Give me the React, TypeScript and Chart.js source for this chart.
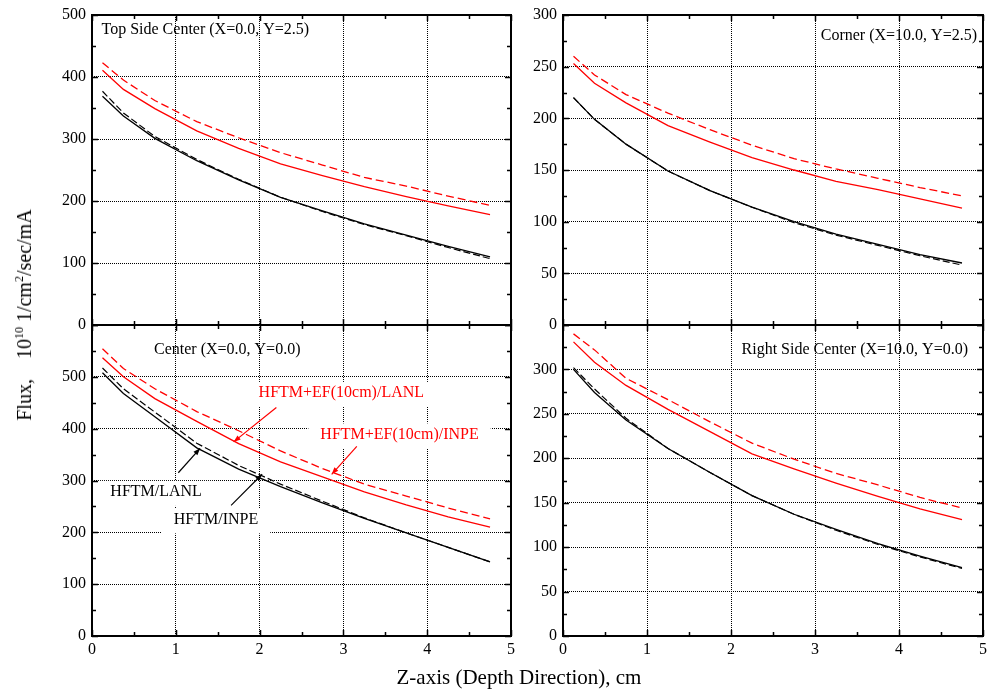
import React, { useEffect, useRef } from 'react';
import { Chart, registerables } from 'chart.js';

Chart.register(...registerables);

const W = 989;
const H = 695;
const SERIF = "'Liberation Serif', 'Times New Roman', Times, serif";

// ---- data ----
const depth = [0.125, 0.375, 0.75, 1.25, 1.75, 2.25, 2.75, 3.25, 3.75, 4.25, 4.75];
const xTickLabels = [0, 1, 2, 3, 4, 5];

const seriesNames = ['HFTM/LANL', 'HFTM/INPE', 'HFTM+EF(10cm)/LANL', 'HFTM+EF(10cm)/INPE'];

// Top Side Center (X=0.0, Y=2.5)
const topSideLanl = [369, 337, 301, 265, 234, 206, 184, 163, 145, 127, 110];
const topSideInpe = [377, 342, 304, 267, 235, 206, 183, 162, 144, 125, 107];
const topSideEfLanl = [411, 380, 349, 313, 285, 260, 241, 223, 207, 192, 178];
const topSideEfInpe = [423, 395, 362, 328, 302, 278, 258, 238, 224, 208, 193];
const topSideYTicks = [0, 100, 200, 300, 400, 500];

// Corner (X=10.0, Y=2.5)
const cornerLanl = [220, 199, 175, 149, 130, 114, 100, 88, 78, 68, 60];
const cornerInpe = [220, 199, 175, 149, 130, 114, 99, 87, 77, 67, 58];
const cornerEfLanl = [253, 234, 215, 193, 177, 162, 150, 139, 131, 122, 113];
const cornerEfInpe = [260, 242, 223, 205, 189, 174, 161, 151, 142, 133, 125];
const cornerYTicks = [0, 50, 100, 150, 200, 250, 300];

// Center (X=0.0, Y=0.0)
const centerLanl = [508, 468, 423, 363, 322, 288, 257, 227, 199, 171, 143];
const centerInpe = [517, 477, 432, 372, 329, 293, 260, 228, 199, 171, 143];
const centerEfLanl = [537, 500, 458, 414, 371, 336, 307, 278, 253, 230, 210];
const centerEfInpe = [554, 516, 477, 433, 396, 357, 323, 293, 270, 247, 226];
const centerYTicks = [0, 100, 200, 300, 400, 500];

// Right Side Center (X=10.0, Y=0.0)
const rightLanl = [300, 274, 243, 211, 184, 158, 137, 120, 104, 90, 77];
const rightInpe = [302, 278, 245, 211, 184, 158, 137, 119, 103, 89, 76];
const rightEfLanl = [331, 308, 282, 255, 230, 205, 188, 172, 157, 143, 131];
const rightEfInpe = [340, 322, 290, 266, 241, 217, 199, 183, 170, 156, 144];
const rightYTicks = [0, 50, 100, 150, 200, 250, 300];

const panelTitles = [
  'Top Side Center (X=0.0, Y=2.5)',
  'Corner (X=10.0, Y=2.5)',
  'Center (X=0.0, Y=0.0)',
  'Right Side Center (X=10.0, Y=0.0)',
];

// annotations in the Center panel (data units)
const noteText = ['HFTM+EF(10cm)/LANL', 'HFTM+EF(10cm)/INPE', 'HFTM/LANL', 'HFTM/INPE'];
const noteX = [2.975, 3.67, 0.765, 1.48];
const noteY = [469, 389, 278, 225];
const arrowFromX = [2.2, 3.16, 1.03, 1.66];
const arrowFromY = [441, 366, 315, 252];
const arrowToX = [1.69, 2.86, 1.29, 2.03];
const arrowToY = [374.5, 312, 362, 312];
const noteColors = ['#ff0000', '#ff0000', '#000000', '#000000'];

// ---- layout / style config ----
type PanelCfg = {
  title: string;
  titleAlign: 'left' | 'right';
  titleDx: number;
  titleDy: number;
  left: number;
  right: number;
  top: number;
  bottom: number;
  yMax: number;
  yStep: number;
  yLabels: number[];
  showX: boolean;
  lanl: number[];
  inpe: number[];
  efLanl: number[];
  efInpe: number[];
  notes: boolean;
};

const L1 = 92, R1 = 511, L2 = 563, R2 = 983, T = 15, M = 325, B = 636;
const Y_AXIS_W = 60;
const X_AXIS_H = 30;

const panels: PanelCfg[] = [
  { title: panelTitles[0], titleAlign: 'left', titleDx: 9.5, titleDy: 14.5, left: L1, right: R1, top: T, bottom: M,
    yMax: 500, yStep: 100, yLabels: topSideYTicks, showX: false,
    lanl: topSideLanl, inpe: topSideInpe, efLanl: topSideEfLanl, efInpe: topSideEfInpe, notes: false },
  { title: panelTitles[1], titleAlign: 'right', titleDx: -6, titleDy: 21, left: L2, right: R2, top: T, bottom: M,
    yMax: 300, yStep: 50, yLabels: cornerYTicks, showX: false,
    lanl: cornerLanl, inpe: cornerInpe, efLanl: cornerEfLanl, efInpe: cornerEfInpe, notes: false },
  { title: panelTitles[2], titleAlign: 'left', titleDx: 62, titleDy: 25, left: L1, right: R1, top: M, bottom: B,
    yMax: 600, yStep: 100, yLabels: centerYTicks, showX: true,
    lanl: centerLanl, inpe: centerInpe, efLanl: centerEfLanl, efInpe: centerEfInpe, notes: true },
  { title: panelTitles[3], titleAlign: 'right', titleDx: -15, titleDy: 25, left: L2, right: R2, top: M, bottom: B,
    yMax: 350, yStep: 50, yLabels: rightYTicks, showX: true,
    lanl: rightLanl, inpe: rightInpe, efLanl: rightEfLanl, efInpe: rightEfInpe, notes: false },
];

const toPts = (ys: number[]) => depth.map((x, i) => ({ x, y: ys[i] }));

function makeFramePlugin(cfg: PanelCfg) {
  return {
    id: 'frameTicks',
    beforeDatasetsDraw(chart: any) {
      const { ctx, chartArea: a } = chart;
      ctx.save();
      ctx.font = `16px ${SERIF}`;
      ctx.fillStyle = '#000';
      ctx.textBaseline = 'middle';
      ctx.textAlign = cfg.titleAlign;
      const tx = cfg.titleAlign === 'left' ? a.left + cfg.titleDx : a.right + cfg.titleDx;
      ctx.fillText(cfg.title, tx, a.top + cfg.titleDy);
      ctx.restore();
    },
    afterDatasetsDraw(chart: any) {
      const { ctx, chartArea: a, scales } = chart;
      const x = scales.x, y = scales.y;
      ctx.save();
      ctx.strokeStyle = '#000';
      ctx.lineWidth = 1.5;
      ctx.beginPath();
      for (let k = 0; k <= 10; k++) {
        const v = k * 0.5;
        const px = Math.round(x.getPixelForValue(v)) + 0.5;
        const len = k % 2 === 0 ? 6 : 4;
        ctx.moveTo(px, a.bottom); ctx.lineTo(px, a.bottom - len);
        ctx.moveTo(px, a.top); ctx.lineTo(px, a.top + len);
      }
      const minor = cfg.yStep / 2;
      const n = Math.round(cfg.yMax / minor);
      for (let k = 0; k <= n; k++) {
        const v = k * minor;
        const py = Math.round(y.getPixelForValue(v)) + 0.5;
        const len = k % 2 === 0 ? 6 : 4;
        ctx.moveTo(a.left, py); ctx.lineTo(a.left + len, py);
        ctx.moveTo(a.right, py); ctx.lineTo(a.right - len, py);
      }
      ctx.stroke();
      ctx.lineWidth = 2;
      ctx.strokeRect(a.left, a.top, a.right - a.left, a.bottom - a.top);
      ctx.restore();
    },
  };
}

function makeNotesPlugin() {
  return {
    id: 'notes',
    beforeDatasetsDraw(chart: any) {
      const { ctx, scales } = chart;
      const x = scales.x, y = scales.y;
      ctx.save();
      ctx.font = `16px ${SERIF}`;
      ctx.textAlign = 'center';
      ctx.textBaseline = 'middle';
      noteText.forEach((t, i) => {
        const cx = x.getPixelForValue(noteX[i]);
        const cy = y.getPixelForValue(noteY[i]);
        const w = ctx.measureText(t).width + 24;
        ctx.fillStyle = '#fff';
        ctx.fillRect(cx - w / 2, cy - 11, w, 25);
        ctx.fillStyle = noteColors[i];
        ctx.fillText(t, cx, cy);
      });
      ctx.restore();
    },
    afterDatasetsDraw(chart: any) {
      const { ctx, scales } = chart;
      const x = scales.x, y = scales.y;
      ctx.save();
      ctx.lineWidth = 1.2;
      noteText.forEach((_, i) => {
        const x1 = x.getPixelForValue(arrowFromX[i]);
        const y1 = y.getPixelForValue(arrowFromY[i]);
        const x2 = x.getPixelForValue(arrowToX[i]);
        const y2 = y.getPixelForValue(arrowToY[i]);
        const ang = Math.atan2(y2 - y1, x2 - x1);
        ctx.strokeStyle = noteColors[i];
        ctx.fillStyle = noteColors[i];
        ctx.beginPath();
        ctx.moveTo(x1, y1);
        ctx.lineTo(x2, y2);
        ctx.stroke();
        const hl = 7, hw = 2.6;
        ctx.beginPath();
        ctx.moveTo(x2, y2);
        ctx.lineTo(x2 - hl * Math.cos(ang) + hw * Math.sin(ang), y2 - hl * Math.sin(ang) - hw * Math.cos(ang));
        ctx.lineTo(x2 - hl * Math.cos(ang) - hw * Math.sin(ang), y2 - hl * Math.sin(ang) + hw * Math.cos(ang));
        ctx.closePath();
        ctx.fill();
      });
      ctx.restore();
    },
  };
}

function Panel({ cfg }: { cfg: PanelCfg }) {
  const ref = useRef<HTMLCanvasElement>(null);
  useEffect(() => {
    const tickFont = { family: SERIF, size: 16 };
    const gridOpts = { color: '#000000', lineWidth: 1, drawTicks: false };
    const plugins: any[] = [makeFramePlugin(cfg)];
    if (cfg.notes) plugins.push(makeNotesPlugin());
    const xH = cfg.showX ? X_AXIS_H : 0;
    const zeroPad = (s: any) => {
      s.paddingLeft = 0;
      s.paddingRight = 0;
      s.paddingTop = 0;
      s.paddingBottom = 0;
    };
    const chart = new Chart(ref.current as HTMLCanvasElement, {
      type: 'line',
      data: {
        datasets: [
          { label: seriesNames[3], data: toPts(cfg.efInpe), borderColor: '#ff0000', borderWidth: 1.3, borderDash: [8, 4], pointRadius: 0, fill: false, tension: 0 },
          { label: seriesNames[2], data: toPts(cfg.efLanl), borderColor: '#ff0000', borderWidth: 1.3, pointRadius: 0, fill: false, tension: 0 },
          { label: seriesNames[1], data: toPts(cfg.inpe), borderColor: '#000000', borderWidth: 1.2, borderDash: [7, 3], pointRadius: 0, fill: false, tension: 0 },
          { label: seriesNames[0], data: toPts(cfg.lanl), borderColor: '#000000', borderWidth: 1.3, pointRadius: 0, fill: false, tension: 0 },
        ],
      },
      options: {
        animation: false,
        responsive: false,
        maintainAspectRatio: false,
        devicePixelRatio: 1,
        events: [],
        layout: {
          padding: {
            left: cfg.left - Y_AXIS_W,
            right: W - cfg.right,
            top: cfg.top,
            bottom: H - cfg.bottom - xH,
          },
        },
        plugins: { legend: { display: false }, tooltip: { enabled: false }, title: { display: false } },
        scales: {
          x: {
            type: 'linear',
            min: 0,
            max: 5,
            afterFit: (s: any) => { s.height = xH; zeroPad(s); },
            ticks: {
              stepSize: 1,
              display: cfg.showX,
              font: tickFont,
              color: '#000',
              padding: 4,
              maxRotation: 0,
              autoSkip: false,
              callback: (v: any) => (xTickLabels.includes(Number(v)) ? String(v) : ''),
            },
            grid: gridOpts,
            border: { display: false, dash: [1, 1] },
          },
          y: {
            type: 'linear',
            min: 0,
            max: cfg.yMax,
            afterFit: (s: any) => { s.width = Y_AXIS_W; zeroPad(s); },
            ticks: {
              stepSize: cfg.yStep,
              font: tickFont,
              color: '#000',
              padding: 6,
              autoSkip: false,
              callback: (v: any) => (cfg.yLabels.includes(Number(v)) ? String(v) : ''),
            },
            grid: gridOpts,
            border: { display: false, dash: [1, 1] },
          },
        },
      } as any,
      plugins,
    });
    return () => chart.destroy();
  }, []);
  return (
    <canvas
      ref={ref}
      width={W}
      height={H}
      style={{ position: 'absolute', left: 0, top: 0, width: W, height: H }}
    />
  );
}

export default function App() {
  return (
    <div style={{ position: 'fixed', left: 0, top: 0, width: W, height: H, background: '#fff', overflow: 'hidden' }}>
      {panels.map((p, i) => (
        <Panel key={i} cfg={p} />
      ))}
      <div
        style={{
          position: 'absolute', left: 519, top: 677, transform: 'translate(-50%, -50%)',
          font: `21px ${SERIF}`, whiteSpace: 'nowrap', color: '#000', lineHeight: '24px',
        }}
      >
        Z-axis (Depth Direction), cm
      </div>
      <div
        style={{
          position: 'absolute', left: 24, top: 315, transform: 'translate(-50%, -50%) rotate(-90deg)',
          font: `20px ${SERIF}`, whiteSpace: 'nowrap', color: '#000', lineHeight: '24px',
        }}
      >
        Flux,{'\u00a0\u00a0\u00a0\u00a0'}10<sup style={{ fontSize: '0.6em', verticalAlign: '0.7em', lineHeight: 0 }}>10</sup>{' '}
        1/cm<sup style={{ fontSize: '0.6em', verticalAlign: '0.7em', lineHeight: 0 }}>2</sup>/sec/mA
      </div>
    </div>
  );
}
